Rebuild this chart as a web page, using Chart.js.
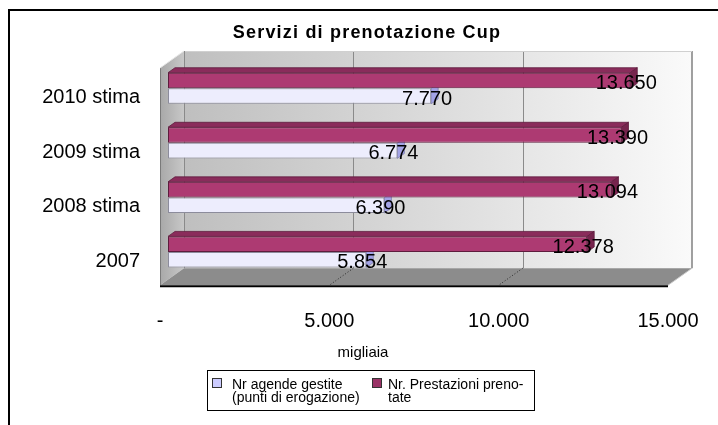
<!DOCTYPE html>
<html>
<head>
<meta charset="utf-8">
<script src="https://cdn.jsdelivr.net/npm/chart.js@4.4.0/dist/chart.umd.min.js"></script>
<style>
html,body{margin:0;padding:0;background:#fff;}
#wrap{position:relative;width:718px;height:425px;overflow:hidden;font-family:"Liberation Sans",Arial,sans-serif;color:#000;}
#frame{position:absolute;left:8px;top:9px;width:760px;height:460px;border-left:2px solid #000;border-top:2px solid #000;}
canvas{position:absolute;left:0;top:0;}
#title{position:absolute;left:167px;width:400px;top:22px;line-height:20px;text-align:center;font-weight:bold;font-size:18px;letter-spacing:1.2px;}
#xtitle{position:absolute;left:313px;width:100px;top:343px;line-height:18px;text-align:center;font-size:15px;}
#legend{position:absolute;left:207px;top:370px;width:326px;height:39px;border:1px solid #000;background:#fff;font-size:14px;line-height:13px;}
.sw{position:absolute;top:3px;width:8px;height:8px;border:1px solid #333;}
.lt{position:absolute;top:0;white-space:pre;}
</style>
</head>
<body>
<div id="wrap">
  <canvas id="c" width="718" height="425"></canvas>
  <div id="frame"></div>
  <div id="title">Servizi di prenotazione Cup</div>
  <div id="xtitle">migliaia</div>
  <div id="legend"></div>
</div>
<script>
// ---- data ----
const categories = ['2007', '2008 stima', '2009 stima', '2010 stima'];
const agendeGestite = [5854, 6390, 6774, 7770];
const prestazioniPrenotate = [12378, 13094, 13390, 13650];
const xTickLabels = ['-', '5.000', '10.000', '15.000'];
const legendLabels = ['Nr agende gestite\n(punti di erogazione)', 'Nr. Prestazioni preno-\ntate'];

const FONT = '"Liberation Sans", Arial, sans-serif';
const COL_PURPLE = '#AD3A72', COL_PURPLE_TOP = '#8A2C5B', COL_PURPLE_CAP = '#76244D';
const COL_WHITE = '#EDEDFD', COL_WHITE_CAP = '#A3A3E6';

function fmt(n){ return String(n).replace(/\B(?=(\d{3})+(?!\d))/g, '.'); }

// legend (HTML)
(function(){
  const lg = document.getElementById('legend');
  const items = [
    {text: legendLabels[0], color: '#CCCCFF', sx: 4, tx: 24},
    {text: legendLabels[1], color: '#993366', sx: 164, tx: 180}
  ];
  items.forEach(it => {
    const sw = document.createElement('div');
    sw.className = 'sw'; sw.style.left = it.sx + 'px'; sw.style.top = '7px'; sw.style.background = it.color;
    lg.appendChild(sw);
    const t = document.createElement('div');
    t.className = 'lt'; t.style.left = it.tx + 'px'; t.style.top = '7px';
    t.textContent = it.text;
    lg.appendChild(t);
  });
})();

const WDX = 24, WDY = 17;   // wall depth offset
const BDX = 7, BDY = 5;     // bar depth offset
const FRONT_SHIFT = 8;      // front plane vs bars

function poly(ctx, pts, fill, stroke, lw){
  ctx.beginPath();
  ctx.moveTo(pts[0][0], pts[0][1]);
  for (let i = 1; i < pts.length; i++) ctx.lineTo(pts[i][0], pts[i][1]);
  ctx.closePath();
  if (fill){ ctx.fillStyle = fill; ctx.fill(); }
  if (stroke){ ctx.strokeStyle = stroke; ctx.lineWidth = lw || 1; ctx.stroke(); }
}

const box3d = {
  id: 'box3d',
  beforeDatasetsDraw(chart){
    const {ctx, chartArea: a, scales: {x}} = chart;
    const FL = x.getPixelForValue(0) - FRONT_SHIFT;
    const FR = x.getPixelForValue(15000) - FRONT_SHIFT;
    const FB = a.bottom + 6;
    const BT = a.top - 10;
    const BB = FB - WDY;
    ctx.save();
    // back wall
    const g = ctx.createLinearGradient(FL + WDX, 0, FR + WDX, 0);
    g.addColorStop(0, '#bfbfbf');
    g.addColorStop(0.5, '#dcdcdc');
    g.addColorStop(1, '#fafafa');
    ctx.fillStyle = g;
    ctx.fillRect(FL + WDX, BT, FR - FL, BB - BT);
    // wall grid
    ctx.strokeStyle = '#8a8a8a'; ctx.lineWidth = 1;
    [5000, 10000].forEach(v => {
      const px = Math.round(x.getPixelForValue(v) - FRONT_SHIFT + WDX) + 0.5;
      ctx.beginPath(); ctx.moveTo(px, BT); ctx.lineTo(px, BB); ctx.stroke();
    });
    ctx.strokeStyle = '#808080'; ctx.lineWidth = 1.5;
    ctx.beginPath(); ctx.moveTo(FR + WDX, BT); ctx.lineTo(FR + WDX, BB); ctx.stroke();
    ctx.strokeStyle = '#d0d0d0'; ctx.lineWidth = 1;
    ctx.beginPath(); ctx.moveTo(FL + WDX, BT + 0.5); ctx.lineTo(FR + WDX, BT + 0.5); ctx.stroke();
    // side wall
    const sg = ctx.createLinearGradient(FL, 0, FL + WDX, 0);
    sg.addColorStop(0, '#a8a8a8');
    sg.addColorStop(1, '#c8c8c8');
    poly(ctx, [[FL, BT + WDY], [FL + WDX, BT], [FL + WDX, BB], [FL, FB]], sg, null);
    ctx.strokeStyle = '#7a7a7a'; ctx.lineWidth = 1;
    ctx.beginPath(); ctx.moveTo(FL + 0.5, BT + WDY); ctx.lineTo(FL + 0.5, FB); ctx.stroke();
    ctx.strokeStyle = '#e6e6e6';
    ctx.beginPath(); ctx.moveTo(FL, BT + WDY); ctx.lineTo(FL + WDX, BT); ctx.stroke();
    ctx.strokeStyle = '#8a8a8a';
    ctx.beginPath(); ctx.moveTo(FL + WDX + 0.5, BT); ctx.lineTo(FL + WDX + 0.5, BB); ctx.stroke();
    // floor
    poly(ctx, [[FL, FB], [FR, FB], [FR + WDX, BB], [FL + WDX, BB]], '#8c8c8c', null);
    ctx.strokeStyle = '#c8c8c8'; ctx.lineWidth = 1;
    ctx.beginPath(); ctx.moveTo(FR, FB); ctx.lineTo(FR + WDX, BB); ctx.stroke();
    ctx.setLineDash([1, 2]); ctx.strokeStyle = '#2a2a2a';
    [5000, 10000].forEach(v => {
      const px = x.getPixelForValue(v) - FRONT_SHIFT;
      ctx.beginPath(); ctx.moveTo(px + WDX, BB); ctx.lineTo(px, FB); ctx.stroke();
    });
    ctx.setLineDash([]);
    ctx.strokeStyle = '#000'; ctx.lineWidth = 2;
    ctx.beginPath(); ctx.moveTo(FL, FB + 1); ctx.lineTo(FR, FB + 1); ctx.stroke();
    // white bar caps (behind purple bars)
    const metaW = chart.getDatasetMeta(1);
    metaW.data.forEach(el => {
      const p = el.getProps(['x', 'y', 'height'], true);
      const t = p.y - p.height / 2, b = p.y + p.height / 2;
      poly(ctx, [[p.x, t], [p.x + BDX, t - BDY], [p.x + BDX, b - BDY], [p.x, b]], COL_WHITE_CAP, '#7d7dae', 0.8);
    });
    ctx.restore();
  },
  afterDatasetsDraw(chart){
    const {ctx} = chart;
    ctx.save();
    const metaP = chart.getDatasetMeta(0);
    metaP.data.forEach(el => {
      const p = el.getProps(['x', 'y', 'base', 'height'], true);
      const t = p.y - p.height / 2, b = p.y + p.height / 2;
      poly(ctx, [[p.base, t], [p.base + BDX, t - BDY], [p.x + BDX, t - BDY], [p.x, t]], COL_PURPLE_TOP, '#5e1c3d', 0.8);
      poly(ctx, [[p.x, t], [p.x + BDX, t - BDY], [p.x + BDX, b - BDY], [p.x, b]], COL_PURPLE_CAP, '#5e1c3d', 0.8);
    });
    // data labels
    ctx.font = '20px ' + FONT;
    ctx.fillStyle = '#000';
    ctx.textAlign = 'center';
    ctx.textBaseline = 'middle';
    [0, 1].forEach(di => {
      const meta = chart.getDatasetMeta(di);
      const vals = chart.data.datasets[di].data;
      meta.data.forEach((el, i) => {
        const p = el.getProps(['x', 'y'], true);
        ctx.fillText(fmt(vals[i]), p.x - 4, p.y + 3);
      });
    });
    ctx.restore();
  }
};

new Chart(document.getElementById('c'), {
  type: 'bar',
  data: {
    labels: categories,
    datasets: [
      {label: 'Nr. Prestazioni prenotate', data: prestazioniPrenotate, backgroundColor: COL_PURPLE, borderColor: '#5e1c3d', borderWidth: 1, borderSkipped: false},
      {label: 'Nr agende gestite', data: agendeGestite, backgroundColor: COL_WHITE, borderColor: '#8c8c9c', borderWidth: 1, borderSkipped: false}
    ]
  },
  options: {
    indexAxis: 'y',
    responsive: false,
    animation: false,
    devicePixelRatio: 1,
    layout: {padding: {top: 61, right: 42, left: 0, bottom: 0}},
    datasets: {bar: {categoryPercentage: 0.57, barPercentage: 1}},
    plugins: {legend: {display: false}, title: {display: false}, tooltip: {enabled: false}},
    scales: {
      x: {
        min: 0, max: 15000,
        ticks: {stepSize: 5000, autoSkip: false, maxRotation: 0, labelOffset: -8, padding: 30,
          color: '#000', font: {size: 20, family: FONT},
          callback: (v, i) => xTickLabels[i]},
        grid: {display: false, drawTicks: false},
        border: {display: false},
        afterFit: s => { s.height = 145.75; s.paddingLeft = 0; s.paddingRight = 0; }
      },
      y: {
        reverse: true,
        ticks: {labelOffset: 9.5, padding: 28, color: '#000', font: {size: 20, family: FONT}},
        grid: {display: false, drawTicks: false},
        border: {display: false},
        afterFit: s => { s.width = 168; s.paddingTop = 0; s.paddingBottom = 0; }
      }
    }
  },
  plugins: [box3d]
});
</script>
</body>
</html>
